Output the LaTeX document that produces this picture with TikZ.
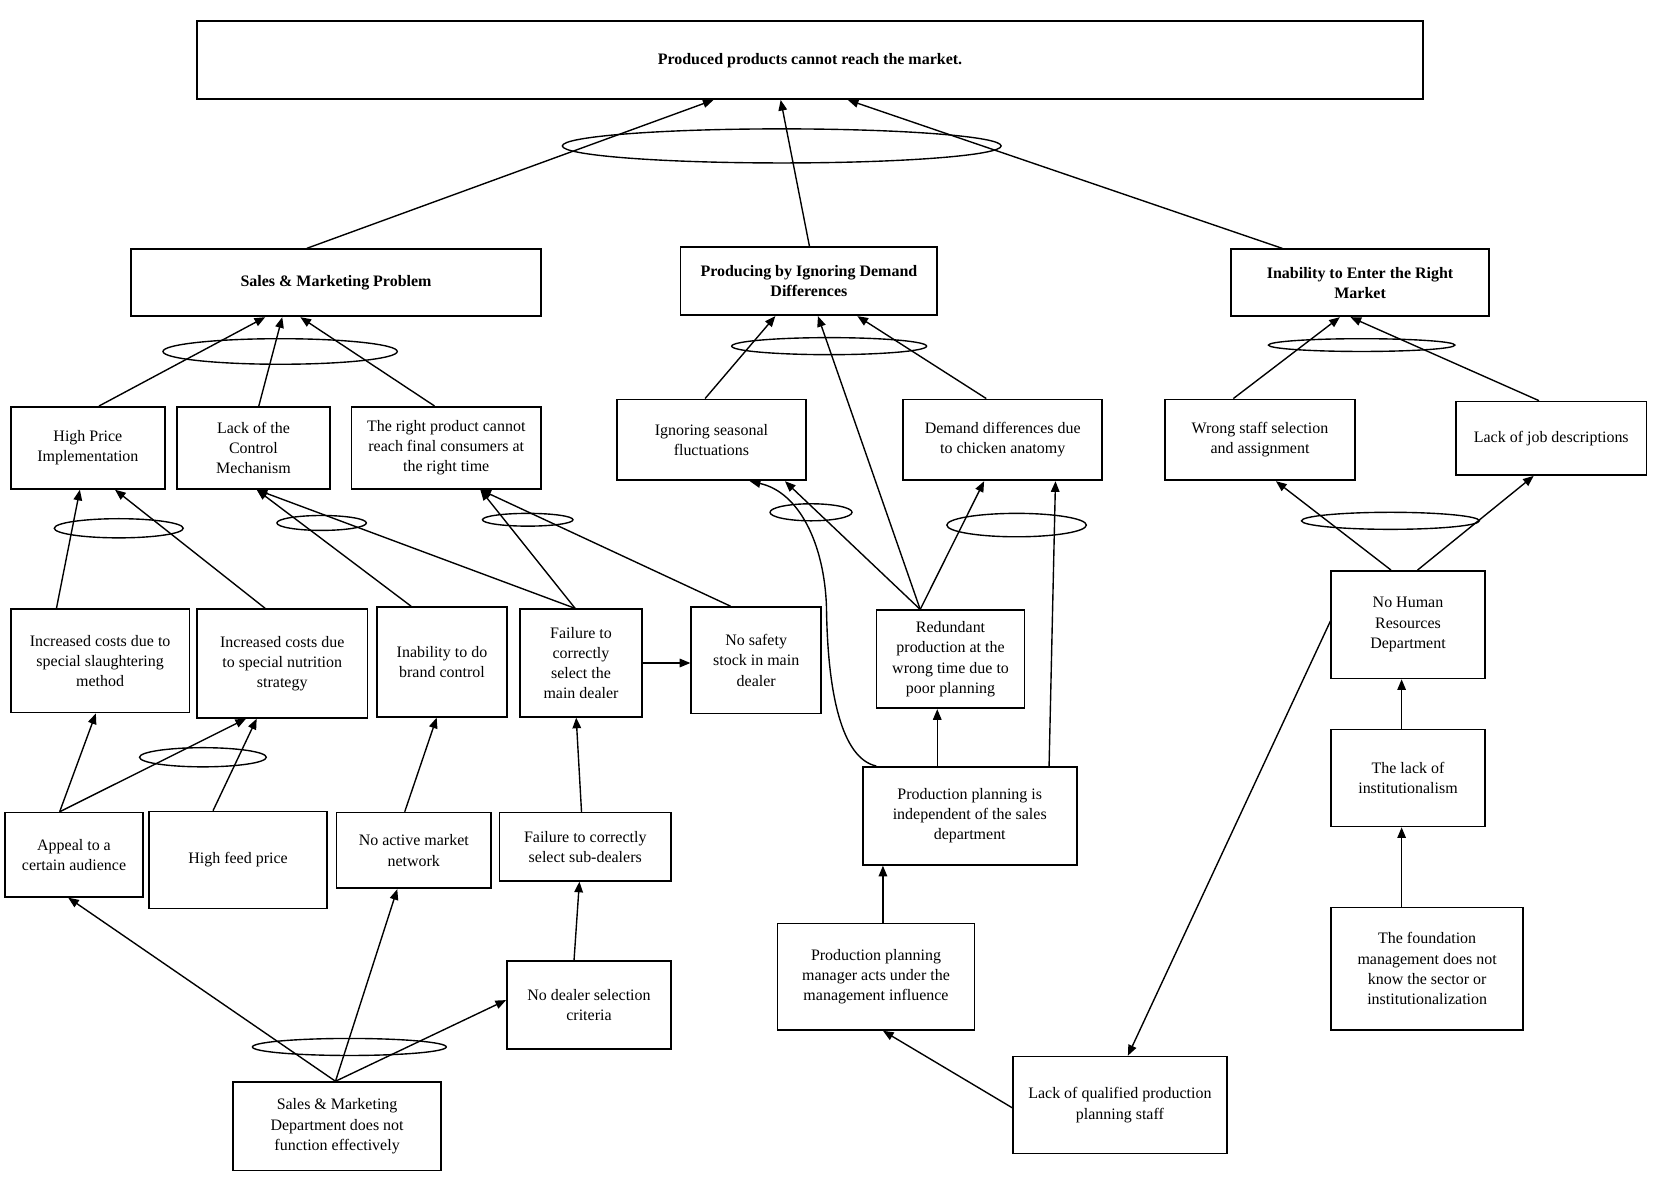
\documentclass[tikz,border=0pt]{standalone}
\usepackage{fontspec}
\setmainfont{Liberation Serif}
\usetikzlibrary{arrows.meta}
\tikzset{
  box/.style={draw, line width=1.6pt, align=center, inner sep=0pt, font=\fontsize{15}{19}\selectfont},
  bbox/.style={box, font=\bfseries\fontsize{15}{19}\selectfont},
  sz/.style 2 args={minimum width=#1pt, minimum height=#2pt},
  arr/.style={-{Triangle[length=10pt,width=8pt]}, line width=1.3pt},
  ell/.style={line width=1.3pt}
}
\begin{document}
\begin{tikzpicture}[x=1pt,y=-1pt]
\useasboundingbox (0,0) rectangle (1568,1106);
% top
\node[bbox, sz={1151}{73}] (T) at (760.5,56.5) {Produced products cannot reach the market.};
% level 1
\node[bbox, sz={385}{63}] (S) at (315.5,265.5) {Sales \& Marketing Problem};
\node[bbox, sz={241}{64}] (P) at (759.5,264) {Producing by Ignoring Demand\\Differences};
\node[bbox, sz={242}{63}] (I) at (1277,265.5) {Inability to Enter the Right\\Market};
% level 2
\node[box, sz={145}{77}] (HP) at (82.5,420.5) {High Price\\Implementation};
\node[box, sz={144}{77}] (LC) at (238,420.5) {Lack of the\\Control\\Mechanism};
\node[box, sz={178}{77}] (RP) at (419,420.5) {The right product cannot\\reach final consumers at\\the right time};
\node[box, sz={178}{76}] (IS) at (668,413) {Ignoring seasonal\\fluctuations};
\node[box, sz={187}{76}] (DD) at (941.5,413) {Demand differences due\\to chicken anatomy};
\node[box, sz={178}{76}] (WS) at (1183,413) {Wrong staff selection\\and assignment};
\node[box, sz={179}{69}] (LJ) at (1456.5,411.5) {Lack of job descriptions};
% level 3
\node[box, sz={168}{97}] (ISL) at (94,620.5) {Increased costs due to\\special slaughtering\\method};
\node[box, sz={160}{102}] (INU) at (265,623) {Increased costs due\\to special nutrition\\strategy};
\node[box, sz={122}{103}] (IBC) at (415,621.5) {Inability to do\\brand control};
\node[box, sz={115}{101}] (FMD) at (545.5,622.5) {Failure to\\correctly\\select the\\main dealer};
\node[box, sz={122}{100}] (NSS) at (710,620) {No safety\\stock in main\\dealer};
\node[box, sz={139}{92}] (RD) at (892.5,619) {Redundant\\production at the\\wrong time due to\\poor planning};
\node[box, sz={201}{92}] (PP) at (910.5,766) {Production planning is\\independent of the sales\\department};
\node[box, sz={185}{100}] (MI) at (822.5,917) {Production planning\\manager acts under the\\management influence};
\node[box, sz={201}{91}] (LQ) at (1051.5,1037.5) {Lack of qualified production\\planning staff};
\node[box, sz={144}{101}] (NH) at (1322,586.5) {No Human\\Resources\\Department};
\node[box, sz={144}{91}] (LI) at (1322,730.5) {The lack of\\institutionalism};
\node[box, sz={180}{115}] (FM) at (1340,909.5) {The foundation\\management does not\\know the sector or\\institutionalization};
% level 4
\node[box, sz={129}{79}] (AP) at (69.5,802.5) {Appeal to a\\certain audience};
\node[box, sz={167}{91}] (HF) at (223.5,807.5) {High feed price};
\node[box, sz={145}{71}] (NA) at (388.5,798.5) {No active market\\network};
\node[box, sz={161}{64}] (SD) at (549.5,795) {Failure to correctly\\select sub-dealers};
\node[box, sz={154}{83}] (ND) at (553,943.5) {No dealer selection\\criteria};
\node[box, sz={195}{83}] (SM) at (316.5,1057.5) {Sales \& Marketing\\Department does not\\function effectively};
% connectors
\draw[arr] ([xshift=-27.5pt]S.north) -- ([xshift=-90.5pt]T.south);
\draw[arr] ([xshift=0.5pt]P.north) -- ([xshift=-27.5pt]T.south);
\draw[arr] ([xshift=-73pt]I.north) -- ([xshift=35.5pt]T.south);
\draw[arr] ([xshift=10.5pt]HP.north) -- ([xshift=-66.5pt]S.south);
\draw[arr] ([xshift=5pt]LC.north) -- ([xshift=-50.5pt]S.south);
\draw[arr] ([xshift=-11pt]RP.north) -- ([xshift=-33.5pt]S.south);
\draw[arr] ([xshift=-6pt]IS.north) -- ([xshift=-31.5pt]P.south);
\draw[arr] ([xshift=-15.5pt]DD.north) -- ([xshift=45.5pt]P.south);
\draw[arr] ([xshift=-28.5pt]RD.north) -- ([xshift=8.5pt]P.south);
\draw[arr] ([xshift=-25pt]WS.north) -- ([xshift=-19pt]I.south);
\draw[arr] ([xshift=-11.5pt]LJ.north) -- ([xshift=-9pt]I.south);
\draw[arr] ([xshift=-41pt]ISL.north) -- ([xshift=-7.5pt]HP.south);
\draw[arr] ([xshift=-16pt]INU.north) -- ([xshift=25.5pt]HP.south);
\draw[arr] ([xshift=-29pt]IBC.north) -- ([xshift=3pt]LC.south);
\draw[arr] ([xshift=-5.5pt]FMD.north) -- ([xshift=3pt]LC.south);
\draw[arr] ([xshift=-5.5pt]FMD.north) -- ([xshift=32pt]RP.south);
\draw[arr] ([xshift=-24pt]NSS.north) -- ([xshift=32pt]RP.south);
\draw[arr] (FMD.east) -- (FMD.east -| NSS.west);
\draw[arr] ([xshift=-28.5pt]RD.north) -- ([xshift=69pt]IS.south);
\draw[arr] ([xshift=-28.5pt]RD.north) -- ([xshift=-17.5pt]DD.south);
\draw[arr] ([xshift=-30.5pt]PP.north) -- ([xshift=-12.5pt]RD.south);
\draw[arr] ([xshift=74.5pt]PP.north) -- ([xshift=49.5pt]DD.south);
\draw[arr] ([xshift=13.5pt]PP.north west) .. controls (790,712) and (777,650) .. (776,570)
  .. controls (774,510) and (750,462) .. ([xshift=36pt]IS.south);
\draw[arr] ([xshift=6.5pt]MI.north) -- ([xshift=-81.5pt]PP.south);
\draw[arr] ([yshift=-2.5pt]LQ.west) -- ([xshift=6.5pt]MI.south);
\draw[arr] ([yshift=3.5pt]NH.west) -- ([xshift=7.5pt]LQ.north);
\draw[arr] ([xshift=-16pt]NH.north) -- ([xshift=15pt]WS.south);
\draw[arr] ([xshift=9pt]NH.north) -- ([xshift=-16.5pt]LJ.south);
\draw[arr] ([xshift=-6pt]LI.north) -- ([xshift=-6pt]NH.south);
\draw[arr] ([xshift=-24pt]FM.north) -- ([xshift=-6pt]LI.south);
\draw[arr] ([xshift=-13.5pt]AP.north) -- ([xshift=-4pt]ISL.south);
\draw[arr] ([xshift=-13.5pt]AP.north) -- ([xshift=-34pt]INU.south);
\draw[arr] ([xshift=-23.5pt]HF.north) -- ([xshift=-24pt]INU.south);
\draw[arr] ([xshift=-8.5pt]NA.north) -- ([xshift=-5pt]IBC.south);
\draw[arr] ([xshift=-3.5pt]SD.north) -- ([xshift=-4.5pt]FMD.south);
\draw[arr] ([xshift=-14pt]ND.north) -- ([xshift=-5.5pt]SD.south);
\draw[arr] ([xshift=-1.5pt]SM.north) -- ([xshift=-5.5pt]AP.south);
\draw[arr] ([xshift=-1.5pt]SM.north) -- ([xshift=-15.5pt]NA.south);
\draw[arr] ([xshift=-1.5pt]SM.north) -- ([yshift=4.5pt]ND.west);
% ellipses (AND groupings)
\draw[ell] (734,137) ellipse [x radius=206pt, y radius=16pt];
\draw[ell] (263,330) ellipse [x radius=110pt, y radius=12pt];
\draw[ell] (778.5,325) ellipse [x radius=91.5pt, y radius=8pt];
\draw[ell] (1278.5,324) ellipse [x radius=87.5pt, y radius=6pt];
\draw[ell] (111.5,496) ellipse [x radius=60.5pt, y radius=9pt];
\draw[ell] (302,491) ellipse [x radius=42pt, y radius=7pt];
\draw[ell] (495.5,488) ellipse [x radius=42.5pt, y radius=6pt];
\draw[ell] (761.5,481) ellipse [x radius=38.5pt, y radius=8pt];
\draw[ell] (954.5,493) ellipse [x radius=65.5pt, y radius=11pt];
\draw[ell] (1305.5,489) ellipse [x radius=83.5pt, y radius=8pt];
\draw[ell] (190.5,711) ellipse [x radius=59.5pt, y radius=9pt];
\draw[ell] (328,983) ellipse [x radius=91pt, y radius=8pt];
\end{tikzpicture}
\end{document}
